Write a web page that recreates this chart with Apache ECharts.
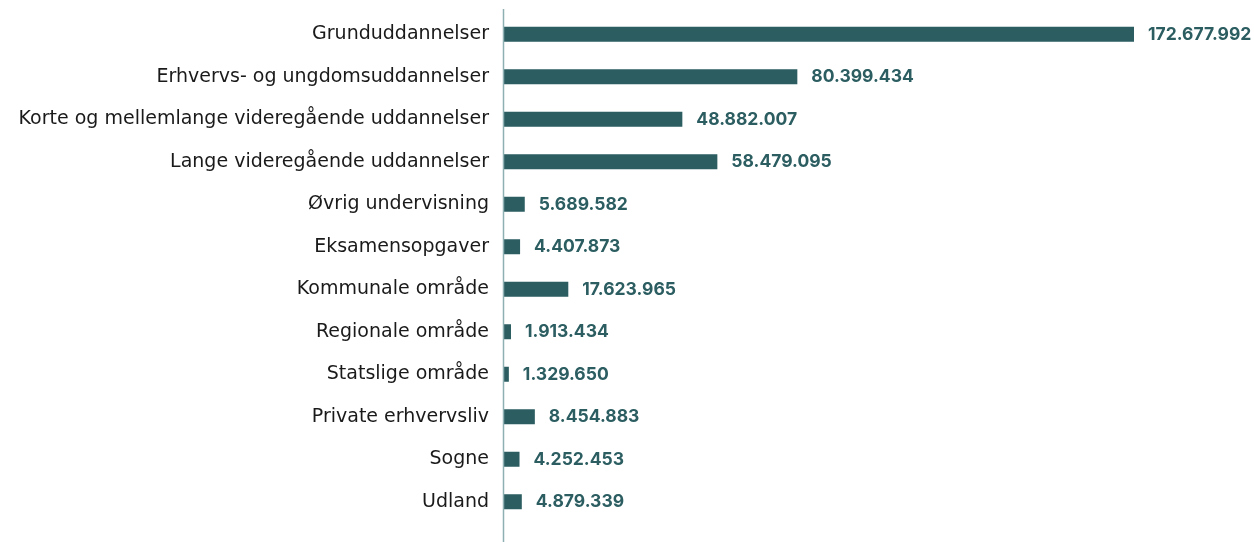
<!DOCTYPE html>
<html>
<head>
<meta charset="utf-8">
<script src="https://cdn.jsdelivr.net/npm/echarts@6/dist/echarts.min.js"></script>
<style>
  html, body { margin: 0; padding: 0; background: #fff; }
  #chart { width: 1254px; height: 542px; }
</style>
</head>
<body>
<div id="chart"></div>
<script>
var categories = [
    'Grunduddannelser',
    'Erhvervs- og ungdomsuddannelser',
    'Korte og mellemlange videregående uddannelser',
    'Lange videregående uddannelser',
    'Øvrig undervisning',
    'Eksamensopgaver',
    'Kommunale område',
    'Regionale område',
    'Statslige område',
    'Private erhvervsliv',
    'Sogne',
    'Udland'
];
var values = [
    172677992, 80399434, 48882007, 58479095, 5689582, 4407873,
    17623965, 1913434, 1329650, 8454883, 4252453, 4879339
];

var barColor = '#2b5d61';

function fmt(v) {
    return String(v).replace(/\B(?=(\d{3})+(?!\d))/g, '.');
}

var chart = echarts.init(document.getElementById('chart'));
chart.setOption({
    animation: false,
    grid: { left: 504, right: 120, top: 13, height: 510 },
    xAxis: {
        type: 'value',
        min: 0,
        max: 172677992 * (1254 - 504 - 120) / 630,
        show: false
    },
    yAxis: {
        type: 'category',
        inverse: true,
        data: categories,
        axisLine: { show: false },
        axisTick: { show: false },
        axisLabel: {
            color: '#1a1a1a',
            fontFamily: 'DejaVu Sans',
            fontSize: 19,
            margin: 15
        }
    },
    graphic: [{
        type: 'line',
        shape: { x1: 503.5, y1: 9, x2: 503.5, y2: 542 },
        style: { stroke: '#8fb0b3', lineWidth: 1.5 },
        z: 10
    }],
    series: [{
        type: 'bar',
        data: values,
        barWidth: 15,
        itemStyle: { color: barColor },
        label: {
            show: true,
            position: 'right',
            distance: 14,
            color: barColor,
            fontFamily: 'Inter',
            fontWeight: 'bold',
            fontSize: 17.5,
            formatter: function (p) { return fmt(p.value); }
        }
    }]
});
</script>
</body>
</html>
